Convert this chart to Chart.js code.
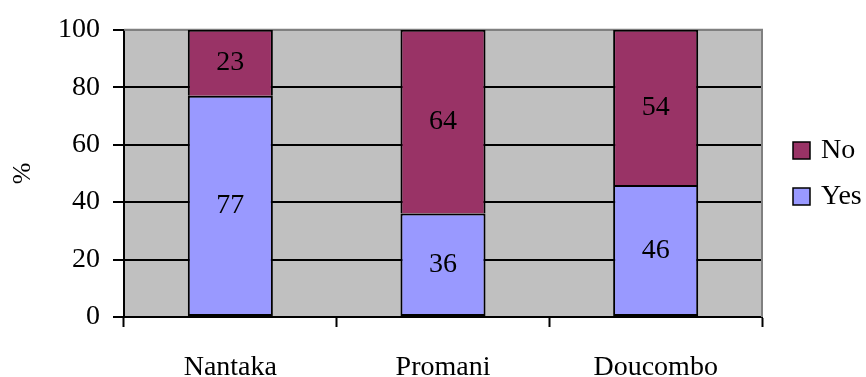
<!DOCTYPE html>
<html>
<head>
<meta charset="utf-8">
<script src="https://cdn.jsdelivr.net/npm/chart.js@4/dist/chart.umd.min.js"></script>
<style>
  html, body { margin: 0; padding: 0; background: #ffffff; }
  #wrap { width: 866px; height: 377px; }
</style>
</head>
<body>
<div id="wrap"><canvas id="c" width="866" height="377"></canvas></div>
<script>
// Villages and share of answers (%)
const categories = ['Nantaka', 'Promani', 'Doucombo'];
const yesValues = [77, 36, 46];
const noValues = [23, 64, 54];
const yTicks = [0, 20, 40, 60, 80, 100];

const FONT = '"Liberation Serif", "Times New Roman", serif';
const SIZE = 28;

// Plot-area background and the grey top/right frame
const framePlugin = {
  id: 'frame',
  beforeDraw(chart) {
    const a = chart.chartArea, ctx = chart.ctx;
    ctx.save();
    ctx.fillStyle = '#c0c0c0';
    ctx.fillRect(a.left, a.top, a.right - a.left, a.bottom - a.top);
    ctx.restore();
  },
  beforeDatasetsDraw(chart) {
    const a = chart.chartArea, ctx = chart.ctx;
    ctx.save();
    ctx.strokeStyle = '#808080';
    ctx.lineWidth = 2;
    ctx.beginPath();
    ctx.moveTo(a.left, a.top);
    ctx.lineTo(a.right, a.top);
    ctx.lineTo(a.right, a.bottom);
    ctx.stroke();
    ctx.restore();
  }
};

// Value written in the middle of each stacked segment
const segmentLabels = {
  id: 'segmentLabels',
  afterDatasetsDraw(chart) {
    const ctx = chart.ctx;
    ctx.save();
    ctx.font = SIZE + 'px ' + FONT;
    ctx.fillStyle = '#000';
    ctx.textAlign = 'center';
    ctx.textBaseline = 'middle';
    chart.data.datasets.forEach((ds, i) => {
      chart.getDatasetMeta(i).data.forEach((el, j) => {
        const y = (el.y + el.base) / 2;
        ctx.fillText(String(ds.data[j]), el.x, y);
      });
    });
    ctx.restore();
  }
};

// Legend on the right: No above Yes
const sideLegend = {
  id: 'sideLegend',
  afterDraw(chart) {
    const ctx = chart.ctx;
    const items = [chart.data.datasets[1], chart.data.datasets[0]];
    const ys = [150, 196];
    ctx.save();
    ctx.font = SIZE + 'px ' + FONT;
    ctx.textAlign = 'left';
    ctx.textBaseline = 'middle';
    items.forEach((ds, k) => {
      const y = ys[k];
      ctx.fillStyle = ds.backgroundColor;
      ctx.fillRect(793, y - 8, 17, 17);
      ctx.strokeStyle = '#000';
      ctx.lineWidth = 1.5;
      ctx.strokeRect(793, y - 8, 17, 17);
      ctx.fillStyle = '#000';
      ctx.fillText(ds.label, 821, y + 1);
    });
    ctx.restore();
  }
};

new Chart(document.getElementById('c'), {
  type: 'bar',
  data: {
    labels: categories,
    datasets: [
      { label: 'Yes', data: yesValues, backgroundColor: '#9999ff', borderColor: '#000', borderWidth: 2, borderSkipped: false },
      { label: 'No', data: noValues, backgroundColor: '#993366', borderColor: '#000', borderWidth: 2, borderSkipped: 'bottom' }
    ]
  },
  options: {
    responsive: false,
    animation: false,
    devicePixelRatio: 1,
    layout: { padding: { top: 27, right: 104, left: 0, bottom: 0 } },
    datasets: { bar: { barPercentage: 0.4, categoryPercentage: 1.0 } },
    plugins: { legend: { display: false }, tooltip: { enabled: false } },
    scales: {
      x: {
        stacked: true,
        offset: true,
        grid: { display: true, offset: true, drawOnChartArea: false, drawTicks: true, tickLength: 10, tickColor: '#000', tickWidth: 2 },
        border: { display: true, color: '#000', width: 2 },
        ticks: { color: '#000', font: { family: FONT, size: SIZE }, padding: 24, maxRotation: 0 },
        afterFit(s) { s.height = 60; }
      },
      y: {
        stacked: true,
        min: 0, max: 100,
        afterBuildTicks(s) { s.ticks = yTicks.map(v => ({ value: v })); },
        grid: {
          color: c => (c.tick && c.tick.value === 100 ? '#808080' : '#000'),
          lineWidth: 2,
          drawTicks: true, tickLength: 11, tickColor: '#000', tickWidth: 2
        },
        border: { display: true, color: '#000', width: 2 },
        ticks: { color: '#000', font: { family: FONT, size: SIZE }, padding: 13 },
        title: { display: true, text: '%', color: '#000', font: { family: FONT, size: 26 }, padding: { top: 8, bottom: 0 } },
        afterFit(s) { s.width = 124; }
      }
    }
  },
  plugins: [framePlugin, segmentLabels, sideLegend]
});
</script>
</body>
</html>
